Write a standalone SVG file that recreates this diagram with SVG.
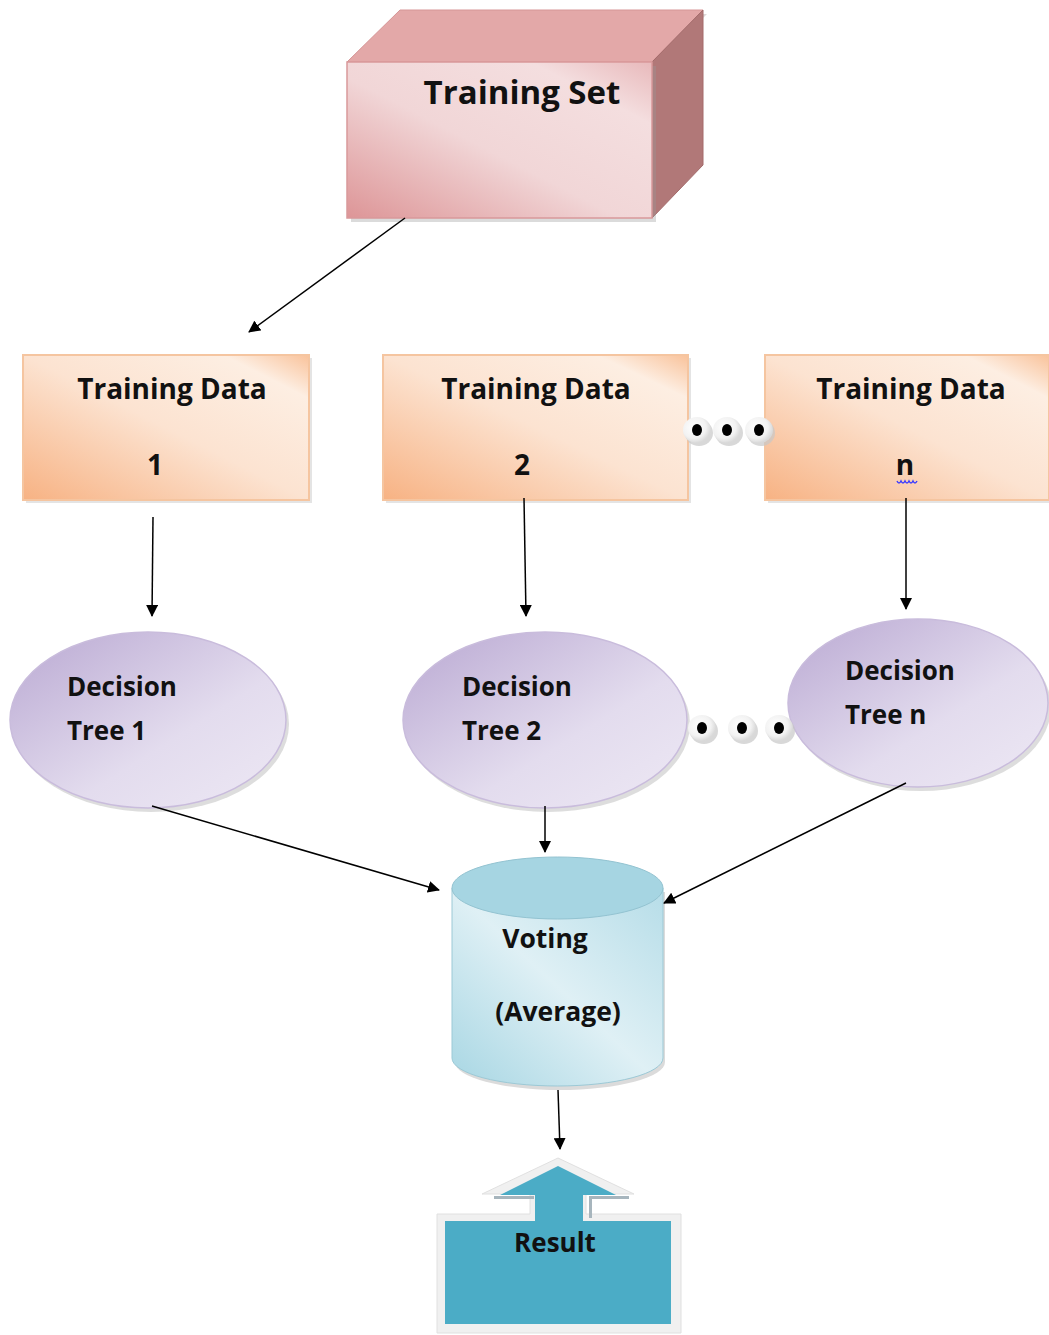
<svg xmlns="http://www.w3.org/2000/svg" width="1049" height="1335" viewBox="0 0 1049 1335">
<defs>
<linearGradient id="gPink" x1="0" y1="1" x2="1" y2="0">
<stop offset="0" stop-color="#dd9597"/>
<stop offset="0.45" stop-color="#f1d6d7"/>
<stop offset="0.8" stop-color="#f4dedf"/>
<stop offset="1" stop-color="#e8b9bb"/>
</linearGradient>
<linearGradient id="gOrange" x1="0" y1="1" x2="1" y2="0">
<stop offset="0" stop-color="#f7b283"/>
<stop offset="0.5" stop-color="#fce3d1"/>
<stop offset="0.85" stop-color="#fdeee2"/>
<stop offset="1" stop-color="#f9c29a"/>
</linearGradient>
<linearGradient id="gPurple" x1="0" y1="0" x2="1" y2="1">
<stop offset="0" stop-color="#b9a8d2"/>
<stop offset="0.6" stop-color="#e3dcee"/>
<stop offset="1" stop-color="#ede8f4"/>
</linearGradient>
<linearGradient id="gCyl" x1="0" y1="1" x2="1" y2="0">
<stop offset="0" stop-color="#a7d6e3"/>
<stop offset="0.5" stop-color="#dff0f5"/>
<stop offset="1" stop-color="#b6dde8"/>
</linearGradient>
<radialGradient id="gDot" cx="0.4" cy="0.4" r="0.6">
<stop offset="0" stop-color="#ffffff"/>
<stop offset="0.7" stop-color="#f2f2f2"/>
<stop offset="1" stop-color="#d9d9d9"/>
</radialGradient>
<marker id="arr" viewBox="0 0 12 12" refX="11" refY="6" markerWidth="12" markerHeight="12" markerUnits="userSpaceOnUse" orient="auto">
<path d="M0,0 L12,6 L0,12 z" fill="#000"/>
</marker>
<g id="dot">
<ellipse cx="2" cy="3" rx="14" ry="13" fill="#c8c8c8" opacity="0.7"/>
<ellipse cx="0" cy="0" rx="14" ry="13" fill="url(#gDot)"/>
<ellipse cx="0" cy="0" rx="5" ry="6" fill="#000"/>
</g>
</defs>
<style>
text { font-family: "Open Sans", Lato, "Liberation Sans", sans-serif; font-weight: bold; fill: #111; }
.conn { stroke: #000; stroke-width: 1.5; fill: none; marker-end: url(#arr); }
.td { fill: url(#gOrange); stroke: #f5c5a0; stroke-width: 2; }
.dt { fill: url(#gPurple); stroke: #c9bcdc; stroke-width: 1.5; }
</style>
<rect width="1049" height="1335" fill="#fff"/>

<g id="training-set">
<polygon points="351,66 404,14 707,14 656,66" fill="#b0a0a0" opacity="0.4"/>
<polygon points="347,62 400,10 703,10 652,62" fill="#e3a8a8" stroke="#d69596" stroke-width="1"/>
<polygon points="652,62 703,10 703,165 652,218" fill="#b17878" stroke="#a46b6b" stroke-width="1"/>
<rect x="351" y="66" width="305" height="156" fill="#999" opacity="0.35"/>
<rect x="347" y="62" width="305" height="156" fill="url(#gPink)" stroke="#d9999b" stroke-width="1.5"/>
<text x="522" y="104" font-size="33" text-anchor="middle">Training Set</text>
</g>

<g id="training-data-1">
<rect x="26" y="358" width="286" height="145" fill="#bbb" opacity="0.4"/>
<rect x="23" y="355" width="286" height="145" class="td"/>
<text x="172" y="399" font-size="28" text-anchor="middle">Training Data</text>
<text x="155" y="475" font-size="28" text-anchor="middle">1</text>
</g>

<g id="training-data-2">
<rect x="386" y="358" width="305" height="145" fill="#bbb" opacity="0.4"/>
<rect x="383" y="355" width="305" height="145" class="td"/>
<text x="536" y="399" font-size="28" text-anchor="middle">Training Data</text>
<text x="522" y="475" font-size="28" text-anchor="middle">2</text>
</g>

<g id="training-data-n">
<rect x="768" y="358" width="284" height="145" fill="#bbb" opacity="0.4"/>
<rect x="765" y="355" width="284" height="145" class="td"/>
<text x="911" y="399" font-size="28" text-anchor="middle">Training Data</text>
<text x="905" y="475" font-size="28" text-anchor="middle">n</text>
<path d="M897,481 q2,4 4,0 q2,4 4,0 q2,4 4,0 q2,4 4,0 q2,4 4,0" stroke="#3b3bff" stroke-width="1.5" fill="none"/>
</g>

<g id="dots-top">
<use href="#dot" x="697" y="430"/>
<use href="#dot" x="727" y="430"/>
<use href="#dot" x="759" y="430"/>
</g>

<g id="decision-tree-1">
<ellipse cx="151" cy="724" rx="138" ry="88" fill="#aaa" opacity="0.4"/>
<ellipse cx="148" cy="720" rx="138" ry="88" class="dt"/>
<text x="67" y="696" font-size="26">Decision</text>
<text x="67" y="740" font-size="26">Tree 1</text>
</g>

<g id="decision-tree-2">
<ellipse cx="548" cy="724" rx="142" ry="88" fill="#aaa" opacity="0.4"/>
<ellipse cx="545" cy="720" rx="142" ry="88" class="dt"/>
<text x="462" y="696" font-size="26">Decision</text>
<text x="462" y="740" font-size="26">Tree 2</text>
</g>

<g id="decision-tree-n">
<ellipse cx="921" cy="707" rx="130" ry="84" fill="#aaa" opacity="0.4"/>
<ellipse cx="918" cy="703" rx="130" ry="84" class="dt"/>
<text x="845" y="680" font-size="26">Decision</text>
<text x="845" y="724" font-size="26">Tree n</text>
</g>

<g id="dots-bottom">
<use href="#dot" x="702" y="728"/>
<use href="#dot" x="742" y="728"/>
<use href="#dot" x="779" y="728"/>
</g>

<g id="voting">
<path d="M455,892 L455,1062 A105,28 0 0 0 665,1062 L665,892 Z" fill="#999" opacity="0.35"/>
<path d="M452,888 L452,1058 A105.5,28 0 0 0 663,1058 L663,888 Z" fill="url(#gCyl)" stroke="#9cc9d6" stroke-width="1"/>
<ellipse cx="557.5" cy="888" rx="105.5" ry="31" fill="#a6d5e2" stroke="#93c3d1" stroke-width="1"/>
<text x="545" y="948" font-size="26.5" text-anchor="middle">Voting</text>
<text x="558" y="1021" font-size="26.5" text-anchor="middle">(Average)</text>
</g>

<g id="result">
<path d="M437,1214 L530,1214 L530,1194 L482,1194 L558,1158 L634,1194 L586,1194 L586,1214 L681,1214 L681,1333 L437,1333 Z" fill="#f0f0f0" stroke="#e0e0e0" stroke-width="1"/>
<rect x="494" y="1196" width="40" height="3" fill="#a7b5bd"/>
<rect x="589" y="1196" width="40" height="3" fill="#a7b5bd"/>
<rect x="589" y="1196" width="3" height="22" fill="#a7b5bd"/>
<path d="M445,1221 L535,1221 L535,1195 L500,1195 L558,1166 L616,1195 L583,1195 L583,1221 L671,1221 L671,1324 L445,1324 Z" fill="#4bacc6"/>
<text x="555" y="1252" font-size="26" text-anchor="middle">Result</text>
</g>

<g id="connectors">
<line x1="405" y1="218" x2="249" y2="332" class="conn"/>
<line x1="153" y1="517" x2="152" y2="616" class="conn"/>
<line x1="524" y1="498" x2="526" y2="616" class="conn"/>
<line x1="906" y1="498" x2="906" y2="609" class="conn"/>
<line x1="152" y1="806" x2="439" y2="890" class="conn"/>
<line x1="545" y1="806" x2="545" y2="852" class="conn"/>
<line x1="906" y1="783" x2="664" y2="903" class="conn"/>
<line x1="558" y1="1090" x2="560" y2="1149" class="conn"/>
</g>
</svg>
